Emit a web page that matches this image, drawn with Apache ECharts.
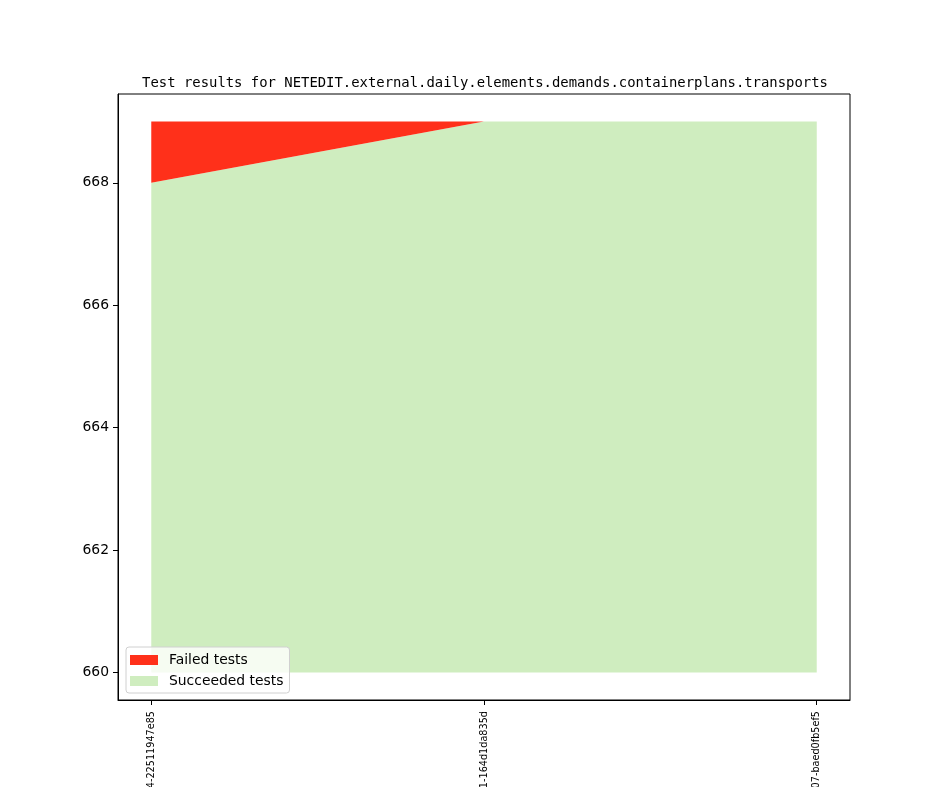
<!DOCTYPE html>
<html>
<head>
<meta charset="utf-8">
<script src="https://cdn.jsdelivr.net/npm/echarts@6/dist/echarts.min.js"></script>
<style>
  html, body { margin: 0; padding: 0; background: #fff; }
  #chart { width: 944px; height: 787px; }
</style>
</head>
<body>
<div id="chart"></div>
<script>
// commits along the x axis (labels are cut at the bottom of the picture)
const commits = ['v1_20_0+0544-22511947e85', 'v1_20_0+0561-164d1da835d', 'v1_20_0+0607-baed0fb5ef5'];
const succeeded = [668, 669, 669];
const failed = [1, 0, 0];
const baseline = 660;
const yTicks = [660, 662, 664, 666, 668];

const chart = echarts.init(document.getElementById('chart'));

const font = 'DejaVu Sans';

// value first, index second, so the stack adds up on y
const pts = arr => arr.map((v, i) => [v, i]);

chart.setOption({
  animation: false,
  title: {
    text: 'Test results for NETEDIT.external.daily.elements.demands.containerplans.transports',
    left: 480,
    textAlign: 'center',
    top: 71,
    textStyle: { fontFamily: 'DejaVu Sans Mono', fontSize: 13.9, fontWeight: 'normal', color: '#000' }
  },
  legend: {
    orient: 'vertical',
    left: 126,
    top: 647,
    padding: [6, 6, 5, 4],
    itemWidth: 28,
    itemHeight: 10,
    itemGap: 7,
    backgroundColor: 'rgba(255,255,255,0.8)',
    borderColor: '#d0d0d0',
    borderWidth: 1,
    borderRadius: 3,
    textStyle: { fontFamily: font, fontSize: 13.9, color: '#000', padding: [0, 0, 0, 6] },
    data: [
      { name: 'Failed tests', icon: 'rect' },
      { name: 'Succeeded tests', icon: 'rect' }
    ]
  },
  grid: {
    left: 118, top: 94, right: 94, bottom: 87,
    containLabel: false,
    outerBoundsMode: 'none',
    show: true, borderColor: '#000', borderWidth: 1, backgroundColor: 'transparent'
  },
  xAxis: {
    type: 'value',
    min: -0.1,
    max: 2.1,
    splitLine: { show: false },
    axisLine: { show: true, onZero: false, lineStyle: { color: '#000', width: 1 } },
    axisTick: { show: true, length: 5, customValues: [0, 1, 2], lineStyle: { color: '#000' } },
    axisLabel: {
      customValues: [0, 1, 2],
      rotate: 90,
      margin: 11,
      fontFamily: font,
      fontSize: 9.7,
      color: '#000',
      formatter: v => commits[Math.round(v)]
    }
  },
  yAxis: {
    type: 'value',
    min: 659.55,
    max: 669.45,
    splitLine: { show: false },
    axisLine: { show: true, onZero: false, lineStyle: { color: '#000', width: 1 } },
    axisTick: { show: true, length: 5, customValues: yTicks, lineStyle: { color: '#000' } },
    axisLabel: {
      customValues: yTicks,
      margin: 9,
      fontFamily: font,
      fontSize: 13.9,
      color: '#000'
    }
  },
  series: [
    {
      name: 'Succeeded tests',
      type: 'line',
      stack: 'tests',
      symbol: 'none',
      color: '#cfedbf',
      lineStyle: { width: 0 },
      areaStyle: { color: '#cfedbf', opacity: 1, origin: baseline },
      encode: { x: 1, y: 0 },
      data: pts(succeeded)
    },
    {
      name: 'Failed tests',
      type: 'line',
      stack: 'tests',
      symbol: 'none',
      color: '#ff301a',
      lineStyle: { width: 0 },
      areaStyle: { color: '#ff301a', opacity: 1 },
      encode: { x: 1, y: 0 },
      data: pts(failed)
    }
  ]
});
</script>
</body>
</html>
